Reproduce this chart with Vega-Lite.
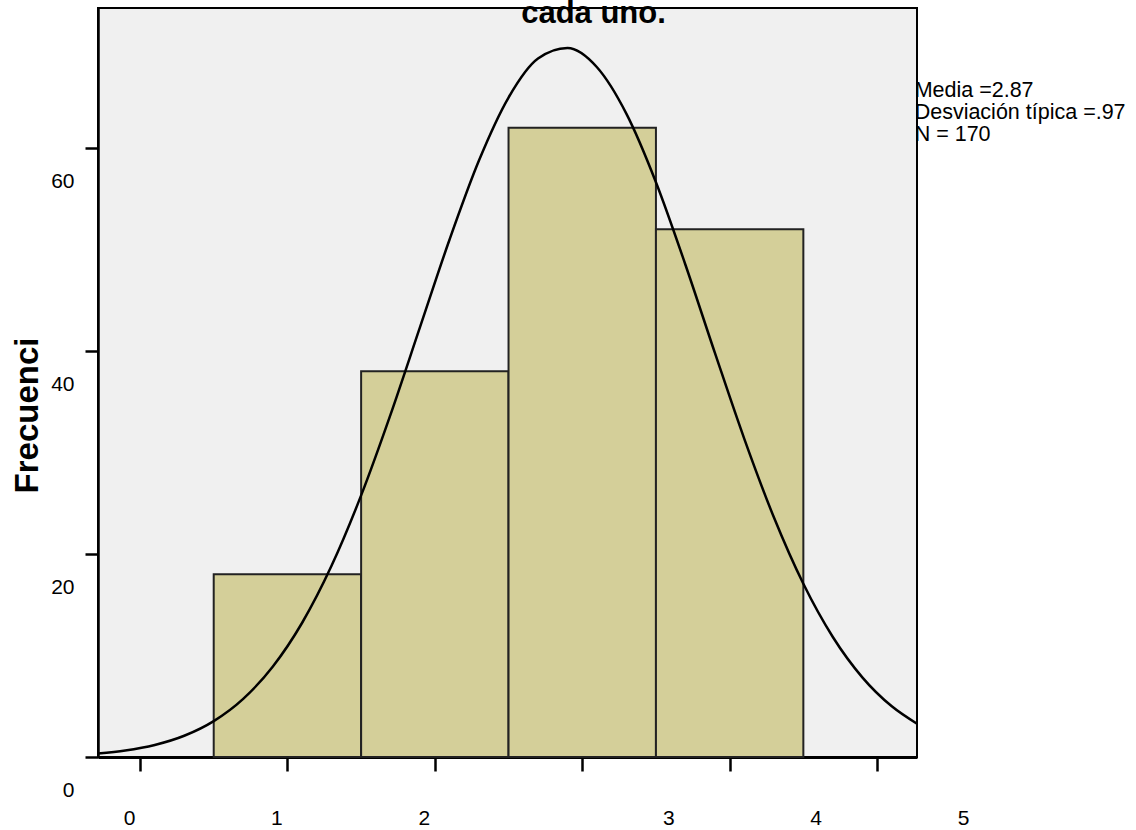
{
  "$schema": "https://vega.github.io/schema/vega-lite/v6.json",
  "autosize": "none",
  "width": 819,
  "height": 749,
  "padding": {"left": 98, "top": 8, "right": 219, "bottom": 73},
  "background": "#ffffff",
  "title": {
    "text": "cada uno.",
    "font": "Liberation Sans",
    "fontSize": 31,
    "fontWeight": "bold",
    "color": "#000000",
    "anchor": "middle",
    "frame": "group",
    "baseline": "alphabetic",
    "offset": 0,
    "dx": 86,
    "dy": 46
  },
  "config": {
    "view": {"fill": "#f0f0f0", "stroke": "#000000", "strokeWidth": 2},
    "font": "Liberation Sans"
  },
  "datasets": {
    "bars": [
      {"bin_start": 0.5, "bin_end": 1.5, "count": 18},
      {"bin_start": 1.5, "bin_end": 2.5, "count": 38},
      {"bin_start": 2.5, "bin_end": 3.5, "count": 62},
      {"bin_start": 3.5, "bin_end": 4.5, "count": 52}
    ],
    "curve": [
      {"x": -0.285, "f": 0.353},
      {"x": -0.1, "f": 0.645},
      {"x": 0.1, "f": 1.187},
      {"x": 0.3, "f": 2.092},
      {"x": 0.5, "f": 3.536},
      {"x": 0.7, "f": 5.728},
      {"x": 0.9, "f": 8.891},
      {"x": 1.1, "f": 13.228},
      {"x": 1.3, "f": 18.861},
      {"x": 1.5, "f": 25.776},
      {"x": 1.7, "f": 33.761},
      {"x": 1.9, "f": 42.381},
      {"x": 2.1, "f": 50.989},
      {"x": 2.3, "f": 58.794},
      {"x": 2.5, "f": 64.974},
      {"x": 2.7, "f": 68.817},
      {"x": 2.9, "f": 69.857},
      {"x": 3.1, "f": 67.963},
      {"x": 3.3, "f": 63.371},
      {"x": 3.5, "f": 56.632},
      {"x": 3.7, "f": 48.504},
      {"x": 3.9, "f": 39.816},
      {"x": 4.1, "f": 31.324},
      {"x": 4.3, "f": 23.619},
      {"x": 4.5, "f": 17.068},
      {"x": 4.7, "f": 11.822},
      {"x": 4.9, "f": 7.847},
      {"x": 5.1, "f": 4.992},
      {"x": 5.271, "f": 3.279}
    ]
  },
  "layer": [
    {
      "data": {"name": "bars"},
      "mark": {"type": "rect", "fill": "#d4cf99", "stroke": "#222222", "strokeWidth": 2},
      "encoding": {
        "x": {
          "field": "bin_start",
          "type": "quantitative",
          "scale": {"domain": [-0.285, 5.271], "nice": false, "zero": false},
          "axis": {
            "orient": "bottom",
            "title": null,
            "values": [0, 1, 2, 3, 4, 5],
            "format": "d",
            "grid": false,
            "domainColor": "#000000",
            "domainWidth": 3,
            "tickColor": "#000000",
            "tickWidth": 2.5,
            "tickSize": 14,
            "labelFont": "Liberation Sans",
            "labelFontSize": 21,
            "labelColor": "#000000",
            "labelPadding": 36,
            "labelBaseline": "top",
            "labelFlush": false,
            "labelOverlap": false,
            "labelOffset": {"condition": {"test": "datum.value >= 3", "value": 86}, "value": -11}
          }
        },
        "x2": {"field": "bin_end"},
        "y": {
          "field": "count",
          "type": "quantitative",
          "scale": {"domain": [0, 73.8], "nice": false, "zero": false},
          "axis": {
            "orient": "left",
            "title": "Frecuenci",
            "titleFont": "Liberation Sans",
            "titleFontSize": 33,
            "titleFontWeight": "bold",
            "titleColor": "#000000",
            "titleAngle": -90,
            "titleAlign": "center",
            "titleBaseline": "alphabetic",
            "titleX": -61,
            "titleY": 407,
            "values": [0, 20, 40, 60],
            "format": "d",
            "grid": false,
            "domainColor": "#000000",
            "domainWidth": 2.5,
            "tickColor": "#000000",
            "tickWidth": 2.5,
            "tickSize": 13,
            "labelFont": "Liberation Sans",
            "labelFontSize": 21,
            "labelColor": "#000000",
            "labelPadding": 11,
            "labelOffset": 33.5,
            "labelFlush": false,
            "labelOverlap": false
          }
        },
        "y2": {"datum": 0}
      }
    },
    {
      "data": {"name": "curve"},
      "mark": {"type": "line", "color": "#000000", "strokeWidth": 2.5, "interpolate": "monotone"},
      "encoding": {
        "x": {"field": "x", "type": "quantitative"},
        "y": {"field": "f", "type": "quantitative"}
      }
    },
    {
      "data": {"values": [{}]},
      "mark": {
        "type": "text",
        "align": "left",
        "baseline": "alphabetic",
        "font": "Liberation Sans",
        "fontSize": 21.5,
        "lineHeight": 22,
        "color": "#000000"
      },
      "encoding": {
        "x": {"datum": 5.255, "type": "quantitative"},
        "y": {"datum": 65.0, "type": "quantitative"},
        "text": {"value": ["Media =2.87", "Desviación típica =.97", "N = 170"]}
      }
    }
  ]
}
